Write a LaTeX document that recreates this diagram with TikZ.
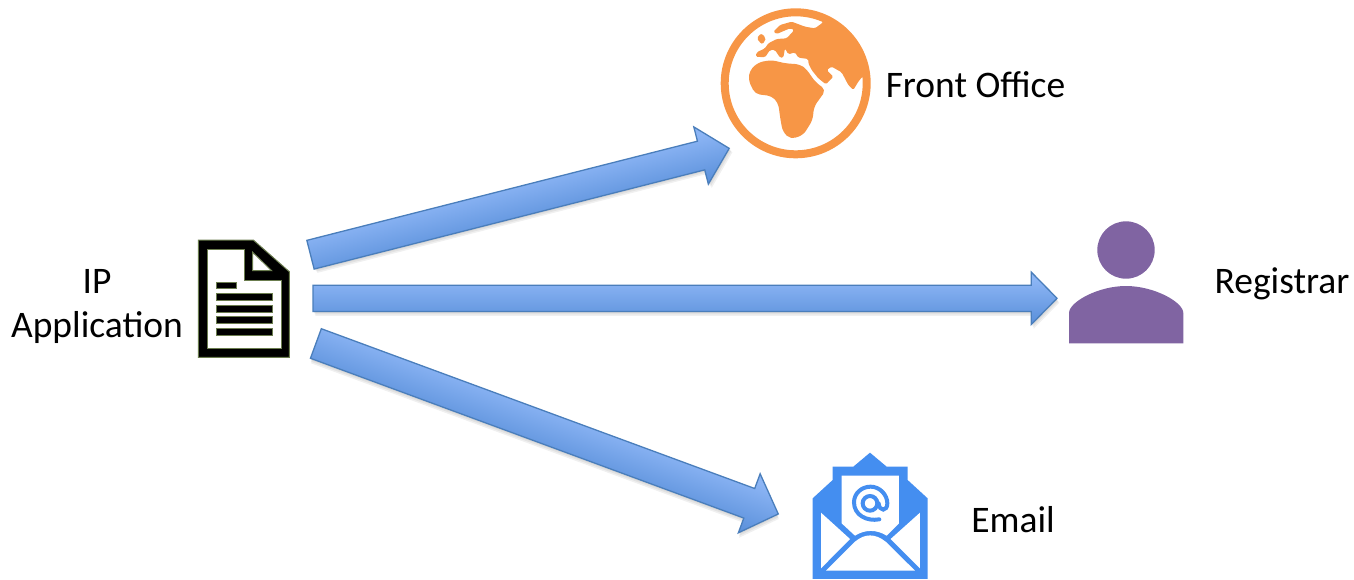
\documentclass[tikz,border=0pt]{standalone}
\usepackage{fontspec}
\setmainfont{Carlito}
\usetikzlibrary{shapes.arrows,shadows}
\definecolor{arrowline}{HTML}{4A7EBB}
\definecolor{globecol}{HTML}{F79646}
\definecolor{personcol}{HTML}{8064A2}
\definecolor{mailcol}{HTML}{448EF0}
\definecolor{docedge}{HTML}{6B7D4F}
\pgfdeclareverticalshading{arrowshade}{100bp}{
  rgb(0bp)=(0.27,0.47,0.78); rgb(28bp)=(0.36,0.57,0.86);
  rgb(68bp)=(0.55,0.71,0.96); rgb(100bp)=(0.50,0.67,0.93)}
\tikzset{
  softshadow/.style={drop shadow={shadow xshift=#1/2, shadow yshift=-#1, opacity=.12}},
  flowarrow/.style={single arrow, draw=arrowline, line width=1.3pt, inner sep=0pt, outer sep=0pt,
    text height=#1pt, text depth=0pt, text width=0pt, anchor=tail,
    single arrow head extend={0.52*#1pt}, single arrow tip angle=91, shading=arrowshade,
    softshadow=1.5pt, softshadow=3pt, softshadow=4.5pt},
  textlabel/.style={font=\fontsize{37.5}{44}\selectfont, align=center, inner sep=0pt},
  docline/.style={fill=black, draw=docedge, line width=1pt}
}
\begin{document}
\begin{tikzpicture}[x=1pt,y=-1pt]
\useasboundingbox (0,0) rectangle (1354,579);

% labels
\node[textlabel] (applabel) at (97,306) {IP\\Application};
\node[textlabel] (frontlabel) at (975.5,85) {Front Office};
\node[textlabel] (reglabel) at (1282,284) {Registrar};
\node[textlabel] (maillabel) at (1013,520) {Email};

% arrows
\begin{scope}[transform canvas={shift={(310.5,254.7)},rotate=14.25}]
\node[flowarrow=28.3, minimum height=432pt] (frontarrow) at (0,0) {};
\end{scope}
\begin{scope}[transform canvas={shift={(313,298.3)}}]
\node[flowarrow=25, minimum height=744pt] (regarrow) at (0,0) {};
\end{scope}
\begin{scope}[transform canvas={shift={(315.9,343.5)},rotate=-20.24}]
\node[flowarrow=30.2, minimum height=492.8pt] (mailarrow) at (0,0) {};
\end{scope}

% document
\draw[fill=black, draw=docedge, line width=1pt] (198.3,240) -- (253.3,240) -- (289.3,271.7)
  -- (289.3,357.3) -- (198.3,357.3) -- cycle;
\draw[fill=white, draw=docedge, line width=1pt] (207.7,249) -- (244,249) -- (244,280) -- (281,280)
  -- (281,348.3) -- (207.7,348.3) -- cycle;
\draw[fill=white, draw=docedge, line width=1pt] (252.7,252.3) -- (271.7,270.7) -- (252.7,270.7) -- cycle;
\draw[docline] (216,282.3) rectangle (236,288.3);
\foreach \y in {293.3,305,316.7,328.3}
  \draw[docline] (216,\y) rectangle (272.3,\y+7.2);

% globe
\draw[globecol, line width=8pt] (795.7,83.3) circle (71);
\begin{scope}[shift={(700,0)}, x=0.3333pt, y=-0.3333pt]
\fill[globecol, rounded corners=1.5pt] (368,68) -- (345,85) -- (315,80) -- (275,65) -- (240,75) -- (220,95) -- (230,102)
  -- (270,85) -- (283,90) -- (260,115) -- (230,117) -- (205,130) -- (195,145) -- (170,157)
  -- (167,170) -- (195,172) -- (210,150) -- (225,150) -- (240,173) -- (250,173) -- (255,145)
  -- (265,163) -- (285,157) -- (295,173) -- (325,177) -- (325,190) -- (335,210) -- (355,235)
  -- (378,253) -- (400,230) -- (380,210) -- (395,200) -- (425,217) -- (445,255) -- (460,270)
  -- (475,245) -- (487,230) -- (496,228) -- (487,185) -- (469,145) -- (422,89) -- (372,58) -- cycle;
\fill[globecol, rounded corners=5pt] (150,210) -- (175,187) -- (215,180) -- (255,190) -- (300,193)
  -- (320,208) -- (345,245) -- (378,270) -- (342,320) -- (338,360) -- (310,405) -- (272,418)
  -- (248,395) -- (240,350) -- (235,310) -- (215,288) -- (165,282) -- (145,240) -- cycle;
\fill[globecol, rounded corners=2pt] (170,115) -- (183,100) -- (197,112) -- (195,125) -- (185,133) -- cycle;
\end{scope}

% person
\fill[personcol] (1126,250) circle (28.7);
\fill[personcol] (1069,343.3) -- (1069,313) .. controls (1069,302) and (1098,286) .. (1126,286)
  .. controls (1154,286) and (1183.3,302) .. (1183.3,313) -- (1183.3,343.3) -- cycle;

% envelope
\begin{scope}[shift={(740,440)}, x=0.3333pt, y=-0.3333pt]
\fill[mailcol] (390,38) -- (440,80) -- (503,80) -- (503,120) -- (563,175) -- (563,417) -- (218,417)
  -- (218,175) -- (278,120) -- (278,80) -- (340,80) -- cycle;
\fill[white] (305,107) -- (477,107) -- (477,250) -- (440,287) .. controls (410,268) and (375,268)
  .. (345,287) -- (305,250) -- cycle;
\fill[white] (243,218) -- (330,297) -- (243,385) -- cycle;
\fill[white] (540,218) -- (452,297) -- (540,385) -- cycle;
\fill[white] (258,392) -- (345,305) .. controls (375,280) and (405,280) .. (437,305) -- (525,392) -- cycle;
\draw[mailcol, line width=4pt] (390,190) circle (22);
\draw[mailcol, line width=4pt, line cap=round] (418,238) .. controls (380,245) and (342,225)
  .. (342,187) .. controls (342,160) and (365,140) .. (392,140) .. controls (420,140) and (442,165)
  .. (442,190) .. controls (442,215) and (418,215) .. (416,190);
\end{scope}
\end{tikzpicture}
\end{document}
